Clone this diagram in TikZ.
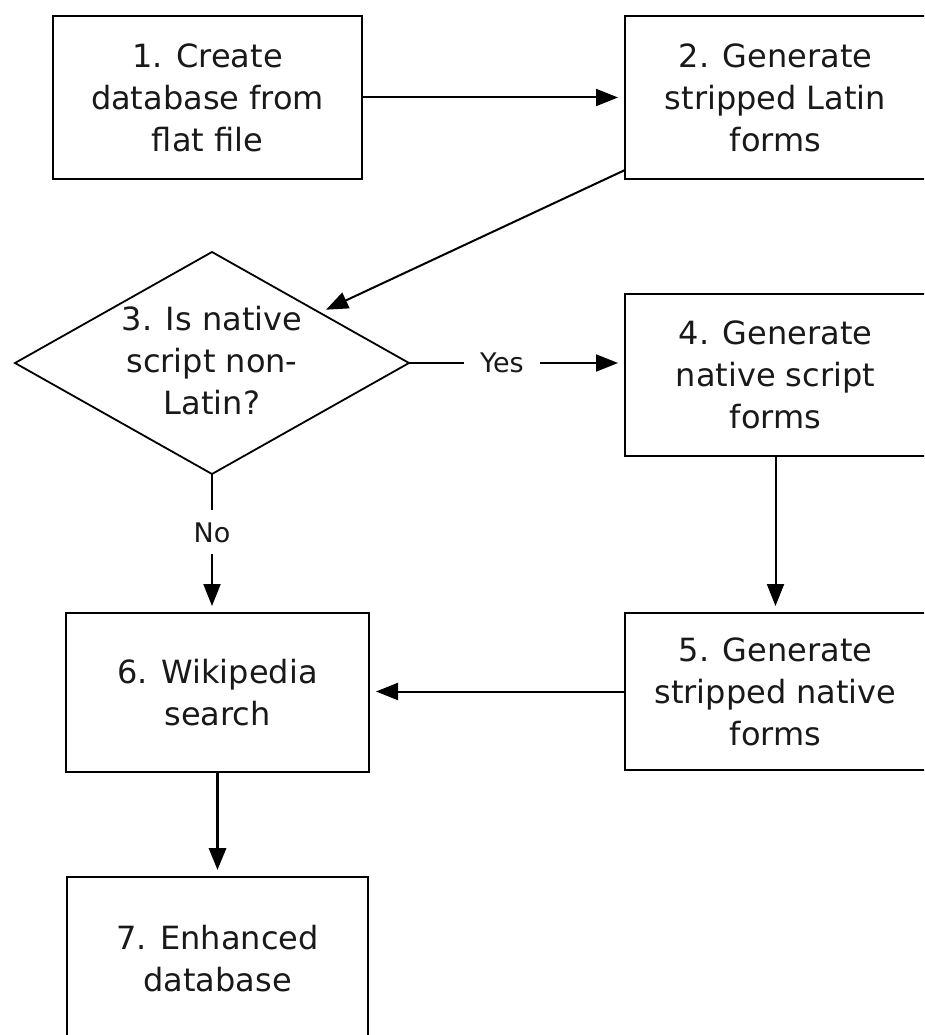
\documentclass[tikz,border=0pt]{standalone}
\usepackage{fontspec}
\setmainfont{DejaVu Sans}
\usetikzlibrary{shapes.geometric,arrows.meta,calc}
\begin{document}
\begin{tikzpicture}[x=1pt,y=-1pt,
  box/.style={draw, line width=2pt, rectangle, inner sep=0pt, outer sep=0pt,
    align=center, text=black!90, font=\fontsize{32}{42}\selectfont},
  decision/.style={draw, diamond, line width=1.8pt, inner sep=0pt, outer sep=0pt,
    minimum width=394pt, minimum height=222pt},
  txt/.style={align=center, inner sep=0pt, text=black!90, font=\fontsize{32}{42}\selectfont},
  arr/.style={line width=2pt, -{Triangle[length=22pt,width=17pt]}, shorten >=7pt},
  lbl/.style={fill=white, text=black!90, font=\fontsize{27}{30}\selectfont, inner xsep=16pt, inner ysep=12pt}
]
\useasboundingbox (0,0) rectangle (924,1035);
\clip (0,0) rectangle (924,1035);

\node[box, minimum width=309pt, minimum height=163pt] (b1) at (207.5,97.5)
  {1. Create\\database from\\flat file};
\node[box, minimum width=301pt, minimum height=163pt] (b2) at (775.5,97.5)
  {2. Generate\\stripped Latin\\forms};
\node[decision] (d3) at (212,363) {};
\node[txt] (t3) at (212,361) {3. Is native\\script non-\\Latin?};
\node[box, minimum width=301pt, minimum height=162pt] (b4) at (775.5,375)
  {4. Generate\\native script\\forms};
\node[box, minimum width=301pt, minimum height=157pt] (b5) at (775.5,691.5)
  {5. Generate\\stripped native\\forms};
\node[box, minimum width=303pt, minimum height=159pt] (b6) at (217.5,692.5)
  {6. Wikipedia\\search};
\node[box, minimum width=301pt, minimum height=164pt] (b7) at (217.5,959)
  {7. Enhanced\\database};

\coordinate (c2) at (625,170);

\draw[arr] (b1.east) -- (b2.west);
\draw[arr] (c2) -- (d3);
\draw[arr] (d3.east) -- node[lbl, pos=0.43] {Yes} (d3.east -| b4.west);
\draw[arr] (d3.south) -- node[lbl, pos=0.42] {No} (d3.south |- b6.north);
\draw[arr] (b4.south) -- (b5.north);
\draw[arr] (b5.west) -- (b5.west -| b6.east);
\draw[arr, line width=3.2pt] (b6.south) -- (b7.north);
\end{tikzpicture}
\end{document}
